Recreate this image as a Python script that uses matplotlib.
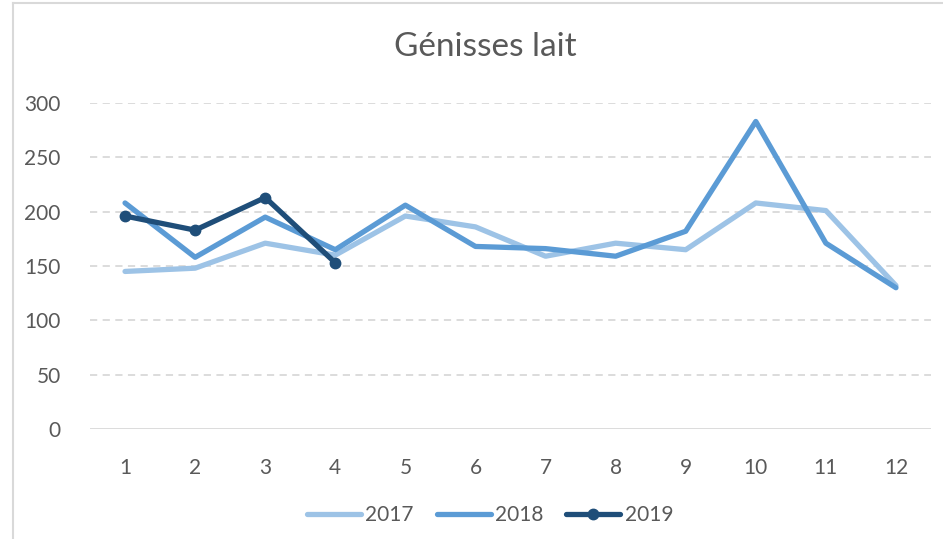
import matplotlib
matplotlib.use("Agg")
import matplotlib.pyplot as plt
from matplotlib.lines import Line2D

months = [1, 2, 3, 4, 5, 6, 7, 8, 9, 10, 11, 12]
v2017 = [145, 148, 171, 160, 196, 186, 159, 171, 165, 208, 201, 132]
v2018 = [208, 158, 195, 165, 206, 168, 166, 159, 182, 283, 171, 130]
months_2019 = [1, 2, 3, 4]
v2019 = [196, 183, 213, 153]
yticks = [0, 50, 100, 150, 200, 250, 300]
title = "Génisses lait"

plt.rcParams['font.family'] = ['Lato', 'DejaVu Sans']
W, H = 943, 539
fig = plt.figure(figsize=(W / 100, H / 100), dpi=100)
ax = fig.add_axes([90 / W, 1 - 429 / H, (931 - 90) / W, (429 - 103) / H])

c17, c18, c19 = "#9DC3E6", "#5B9BD5", "#1F4E79"
l17, = ax.plot(months, v2017, color=c17, lw=3.8, solid_capstyle='round', solid_joinstyle='round', label="2017", zorder=3)
l18, = ax.plot(months, v2018, color=c18, lw=3.8, solid_capstyle='round', solid_joinstyle='round', label="2018", zorder=4)
l19, = ax.plot(months_2019, v2019, color=c19, lw=3.8, marker='o', ms=7.5, solid_capstyle='round', solid_joinstyle='round', label="2019", zorder=5)

ax.set_xlim(0.5, 12.5)
ax.set_ylim(0, 300)
ax.set_yticks(yticks)
ax.set_xticks(months)
for y in yticks[1:]:
    ax.axhline(y, color="#D9D9D9", lw=1.3, ls=(0, (4, 3)), zorder=1)
ax.axhline(0, color="#D9D9D9", lw=1.3, zorder=1)
for s in ax.spines.values():
    s.set_visible(False)
ax.tick_params(axis='both', length=0, labelsize=15, colors="#595959")
ax.tick_params(axis='x', pad=21)
ax.tick_params(axis='y', pad=21)

fig.text(485 / W, 1 - 47 / H, title, ha='center', va='center', fontsize=24, color="#595959")

leg = fig.legend(handles=[l17, l18, l19], loc='center', bbox_to_anchor=(490 / W, 1 - 515 / H),
                 ncol=3, frameon=False, fontsize=15, handlelength=2.6, handletextpad=0.2,
                 columnspacing=1.1)
for t in leg.get_texts():
    t.set_color("#595959")

fig.add_artist(Line2D([13 / W, 13 / W], [0, 1 - 3 / H], color="#D9D9D9", lw=1.5))
fig.add_artist(Line2D([13 / W, 1], [1 - 3 / H, 1 - 3 / H], color="#D9D9D9", lw=1.5))

fig.savefig("out.png", dpi=100)
